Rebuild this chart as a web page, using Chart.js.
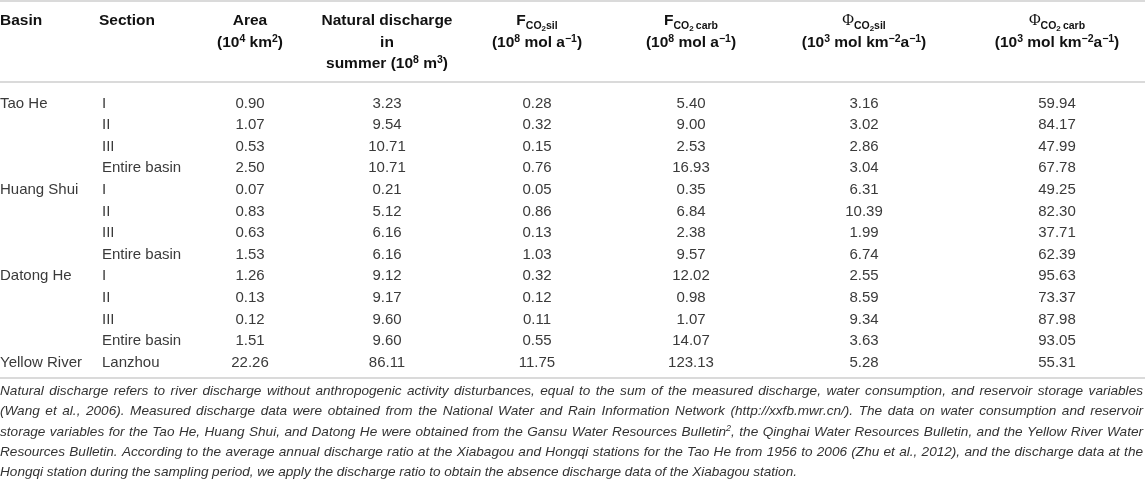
<!doctype html>
<html lang="en">
<head>
<meta charset="utf-8">
<title>Basin CO2 consumption table</title>
<style>
  * { margin: 0; padding: 0; }
  body { background: #fff; }
  .tableBox { width: 1145px; height: 485px; }
</style>
</head>
<body>
<div class="tableBox"><canvas id="myChart" width="1145" height="485"></canvas></div>
<script src="https://cdn.jsdelivr.net/npm/chart.js"></script>
<script>
// data
const basins    = ['Tao He', '', '', '', 'Huang Shui', '', '', '', 'Datong He', '', '', '', 'Yellow River'];
const sections  = ['I', 'II', 'III', 'Entire basin', 'I', 'II', 'III', 'Entire basin', 'I', 'II', 'III', 'Entire basin', 'Lanzhou'];
const area      = [0.90, 1.07, 0.53, 2.50, 0.07, 0.83, 0.63, 1.53, 1.26, 0.13, 0.12, 1.51, 22.26];
const discharge = [3.23, 9.54, 10.71, 10.71, 0.21, 5.12, 6.16, 6.16, 9.12, 9.17, 9.60, 9.60, 86.11];
const fSil      = [0.28, 0.32, 0.15, 0.76, 0.05, 0.86, 0.13, 1.03, 0.32, 0.12, 0.11, 0.55, 11.75];
const fCarb     = [5.40, 9.00, 2.53, 16.93, 0.35, 6.84, 2.38, 9.57, 12.02, 0.98, 1.07, 14.07, 123.13];
const phiSil    = [3.16, 3.02, 2.86, 3.04, 6.31, 10.39, 1.99, 6.74, 2.55, 8.59, 9.34, 3.63, 5.28];
const phiCarb   = [59.94, 84.17, 47.99, 67.78, 49.25, 82.30, 37.71, 62.39, 95.63, 73.37, 87.98, 93.05, 55.31];

// header labels: one entry per column, each a list of lines, each line a list of [text, style]
const headers = [
  [[['Basin', 'b']]],
  [[['Section', 'b']]],
  [[['Area', 'b']], [['(10', 'b'], ['4', 'sup'], [' km', 'b'], ['2', 'sup'], [')', 'b']]],
  [[['Natural discharge', 'b']], [['in', 'b']], [['summer (10', 'b'], ['8', 'sup'], [' m', 'b'], ['3', 'sup'], [')', 'b']]],
  [[['F', 'b'], ['CO', 'sub'], ['2', 'sub2'], ['sil', 'sub']], [['(10', 'b'], ['8', 'sup'], [' mol a', 'b'], ['\u22121', 'sup'], [')', 'b']]],
  [[['F', 'b'], ['CO', 'sub'], ['2', 'sub2'], ['\u2009carb', 'sub']], [['(10', 'b'], ['8', 'sup'], [' mol a', 'b'], ['\u22121', 'sup'], [')', 'b']]],
  [[['\u03A6', 'phi'], ['CO', 'sub'], ['2', 'sub2'], ['sil', 'sub']], [['(10', 'b'], ['3', 'sup'], [' mol km', 'b'], ['\u22122', 'sup'], ['a', 'b'], ['\u22121', 'sup'], [')', 'b']]],
  [[['\u03A6', 'phi'], ['CO', 'sub'], ['2', 'sub2'], ['\u2009carb', 'sub']], [['(10', 'b'], ['3', 'sup'], [' mol km', 'b'], ['\u22122', 'sup'], ['a', 'b'], ['\u22121', 'sup'], [')', 'b']]]
];

const footnote = [
  'Natural discharge refers to river discharge without anthropogenic activity disturbances, equal to the sum of the measured discharge, water consumption, and reservoir storage variables',
  '(Wang et al., 2006). Measured discharge data were obtained from the National Water and Rain Information Network (http://xxfb.mwr.cn/). The data on water consumption and reservoir',
  'storage variables for the Tao He, Huang Shui, and Datong He were obtained from the Gansu Water Resources Bulletin^2, the Qinghai Water Resources Bulletin, and the Yellow River Water',
  'Resources Bulletin. According to the average annual discharge ratio at the Xiabagou and Hongqi stations for the Tao He from 1956 to 2006 (Zhu et al., 2012), and the discharge data at the',
  'Hongqi station during the sampling period, we apply the discharge ratio to obtain the absence discharge data of the Xiabagou station.'
];

const columns = [basins, sections, area, discharge, fSil, fCarb, phiSil, phiCarb];

// layout
const colX = [0, 102, 250, 387, 537, 691, 864, 1057];
const headerX = [0, 99, 250, 387, 537, 691, 864, 1057];
const colAlign = ['left', 'left', 'center', 'center', 'center', 'center', 'center', 'center'];
const rowPitch = 21.6;       // px per row unit
const firstRowPx = 102;
const yMin = -firstRowPx / rowPitch;
const yMax = yMin + 485 / rowPitch;
const headerRows = [-3.80, -2.78, -1.81];
const ruleRows = [-4.68, -0.93, 12.77];
const noteRow0 = 13.34, notePitch = 0.94;
const noteWidths = [1143, 1143, 1143, 1143, 797];

const SANS = '"Liberation Sans", Arial, sans-serif';
const styles = {
  b:    { font: 'bold 15.5px ' + SANS, dy: 0 },
  sup:  { font: 'bold 10.5px ' + SANS, dy: -5.5 },
  sub:  { font: 'bold 10.5px ' + SANS, dy: 3.5 },
  sub2: { font: 'bold 8px ' + SANS, dy: 6 },
  phi:  { font: '16px "Liberation Serif", serif', dy: 0 }
};

function richWidth(ctx, segs) {
  let w = 0;
  segs.forEach(([t, s]) => { ctx.font = styles[s].font; w += ctx.measureText(t).width; });
  return w;
}

function drawRich(ctx, segs, x, y, align) {
  let cx = align === 'center' ? x - richWidth(ctx, segs) / 2 : x;
  segs.forEach(([t, s]) => {
    ctx.font = styles[s].font;
    ctx.fillText(t, cx, y + styles[s].dy);
    cx += ctx.measureText(t).width;
  });
}

// draws one justified footnote line, word by word
function drawJustified(ctx, line, x, y, width) {
  const mainFont = 'italic 13.6px ' + SANS;
  const supFont = 'italic 9px ' + SANS;
  const words = line.split(' ').map(w => {
    const parts = w.split('^');
    if (parts.length === 1) return [[w, mainFont, 0]];
    const sup = parts[1].charAt(0), rest = parts[1].slice(1);
    return [[parts[0], mainFont, 0], [sup, supFont, -5], [rest, mainFont, 0]];
  });
  const wordW = words.map(pieces => pieces.reduce((a, [t, f]) => { ctx.font = f; return a + ctx.measureText(t).width; }, 0));
  const total = wordW.reduce((a, b) => a + b, 0);
  const gap = (width - total) / (words.length - 1);
  let cx = x;
  words.forEach((pieces, i) => {
    let px = cx;
    pieces.forEach(([t, f, dy]) => { ctx.font = f; ctx.fillText(t, px, y + dy); px += ctx.measureText(t).width; });
    cx += wordW[i] + gap;
  });
}

// table text plugin
const tableText = {
  id: 'tableText',
  afterDatasetsDraw(chart) {
    const { ctx, chartArea: { left, right }, scales: { x, y } } = chart;
    const meta = chart.getDatasetMeta(0);
    ctx.save();
    ctx.textBaseline = 'alphabetic';

    // rules
    ctx.strokeStyle = '#dadada';
    ctx.lineWidth = 2;
    ruleRows.forEach(r => {
      const py = Math.round(y.getPixelForValue(r));
      ctx.beginPath();
      ctx.moveTo(left, py);
      ctx.lineTo(right, py);
      ctx.stroke();
    });

    // headers
    ctx.fillStyle = '#111';
    headers.forEach((lines, j) => {
      lines.forEach((segs, k) => {
        drawRich(ctx, segs, x.getPixelForValue(headerX[j]), y.getPixelForValue(headerRows[k]) + 5.5, colAlign[j]);
      });
    });

    // cells
    ctx.fillStyle = '#3a3a3a';
    ctx.font = '15px ' + SANS;
    meta.data.forEach((pt, k) => {
      const cell = chart.data.datasets[0].data[k];
      const v = columns[cell.col][cell.row];
      const txt = typeof v === 'number' ? v.toFixed(2) : v;
      ctx.textAlign = colAlign[cell.col];
      ctx.fillText(txt, pt.x, pt.y + 5.5);
    });
    ctx.textAlign = 'left';

    // footnote
    ctx.fillStyle = '#333';
    footnote.forEach((line, i) => {
      drawJustified(ctx, line, left, y.getPixelForValue(noteRow0 + i * notePitch) + 5, noteWidths[i]);
    });
    ctx.restore();
  }
};

const cells = [];
sections.forEach((_, i) => colX.forEach((cx, j) => cells.push({ x: cx, y: i, col: j, row: i })));

const config = {
  type: 'scatter',
  data: { datasets: [{ data: cells, pointRadius: 0, pointHoverRadius: 0 }] },
  options: {
    responsive: false,
    animation: false,
    events: [],
    layout: { padding: 0, autoPadding: false },
    plugins: { legend: { display: false }, tooltip: { enabled: false } },
    scales: {
      x: { type: 'linear', min: 0, max: 1145, display: false },
      y: { type: 'linear', reverse: true, min: yMin, max: yMax, display: false }
    }
  },
  plugins: [tableText]
};

const myChart = new Chart(document.getElementById('myChart'), config);
</script>
</body>
</html>
